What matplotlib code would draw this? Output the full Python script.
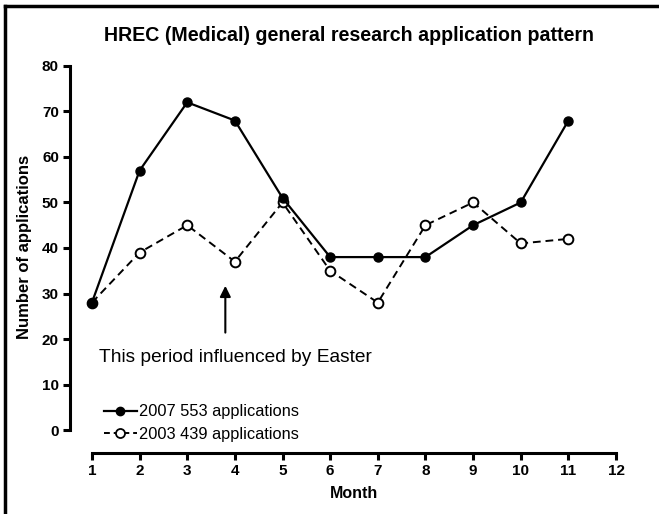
import matplotlib
matplotlib.use('Agg')
import matplotlib.pyplot as plt
from matplotlib.lines import Line2D

plt.rcParams['font.family'] = ['Liberation Sans', 'DejaVu Sans']

# data
months = [1, 2, 3, 4, 5, 6, 7, 8, 9, 10, 11]
apps_2007 = [28, 57, 72, 68, 51, 38, 38, 38, 45, 50, 68]
apps_2003 = [28, 39, 45, 37, 50, 35, 28, 45, 50, 41, 42]
label_2007 = '2007 553 applications'
label_2003 = '2003 439 applications'
x_ticks = list(range(1, 13))
y_ticks = list(range(0, 81, 10))

fig = plt.figure(figsize=(6.59, 5.14), dpi=100)
ax = fig.add_axes([70 / 659, 61 / 514, 547 / 659, 388 / 514])

ax.plot(months, apps_2003, color='black', lw=1.4, ls=(0, (4, 2.5)),
        marker='o', ms=7, mfc='white', mec='black', mew=1.4, zorder=3)
ax.plot(months, apps_2007, color='black', lw=1.6, ls='-',
        marker='o', ms=6.5, mfc='black', mec='black', zorder=4)

ax.set_xlim(0.54, 12.02)
ax.set_ylim(-5.04, 80.2)

for side in ['top', 'right']:
    ax.spines[side].set_visible(False)
ax.spines['left'].set_bounds(0, 80)
ax.spines['bottom'].set_bounds(1, 12)
ax.spines['left'].set_linewidth(2.2)
ax.spines['bottom'].set_linewidth(2.2)
ax.set_xticks(x_ticks)
ax.set_yticks(y_ticks)
ax.tick_params(width=2.2, length=5, labelsize=11, pad=3)
for lab in ax.get_xticklabels() + ax.get_yticklabels():
    lab.set_fontweight('bold')

ax.set_xlabel('Month', fontsize=11.5, fontweight='bold')
ax.xaxis.set_label_coords((6.5 - 0.54) / (12.02 - 0.54), -0.085)
ax.set_ylabel('Number of applications', fontsize=12, fontweight='bold')
ax.yaxis.set_label_coords(-0.07, 0.531)
ax.set_title('HREC (Medical) general research application pattern',
             fontsize=14.1, fontweight='bold', pad=17, x=0.51)

# Easter annotation
ax.annotate('', xy=(3.8, 32.3), xytext=(3.8, 20.8),
            arrowprops=dict(arrowstyle='-|>', color='black', lw=1.5,
                            mutation_scale=16))
ax.text(1.14, 16.0, 'This period influenced by Easter', fontsize=13.8,
        va='center', ha='left')

handles = [
    Line2D([], [], color='black', lw=1.6, marker='o', ms=6, mfc='black'),
    Line2D([], [], color='black', lw=1.4, ls=(0, (3, 2)), marker='o', ms=6.5,
           mfc='white', mew=1.3),
]
ax.legend(handles, [label_2007, label_2003], loc='lower left',
          bbox_to_anchor=(0.05, 0.012), frameon=False, fontsize=11.8,
          handlelength=2.0, handletextpad=0.15, labelspacing=0.45,
          borderaxespad=0.0)

# outer frame (left and top edges)
fig.add_artist(Line2D([5 / 659, 5 / 659], [0, 1 - 6 / 514], color='black', lw=2.5))
fig.add_artist(Line2D([5 / 659, 1], [1 - 6 / 514, 1 - 6 / 514], color='black', lw=2.5))

fig.savefig('out.png', dpi=100)
